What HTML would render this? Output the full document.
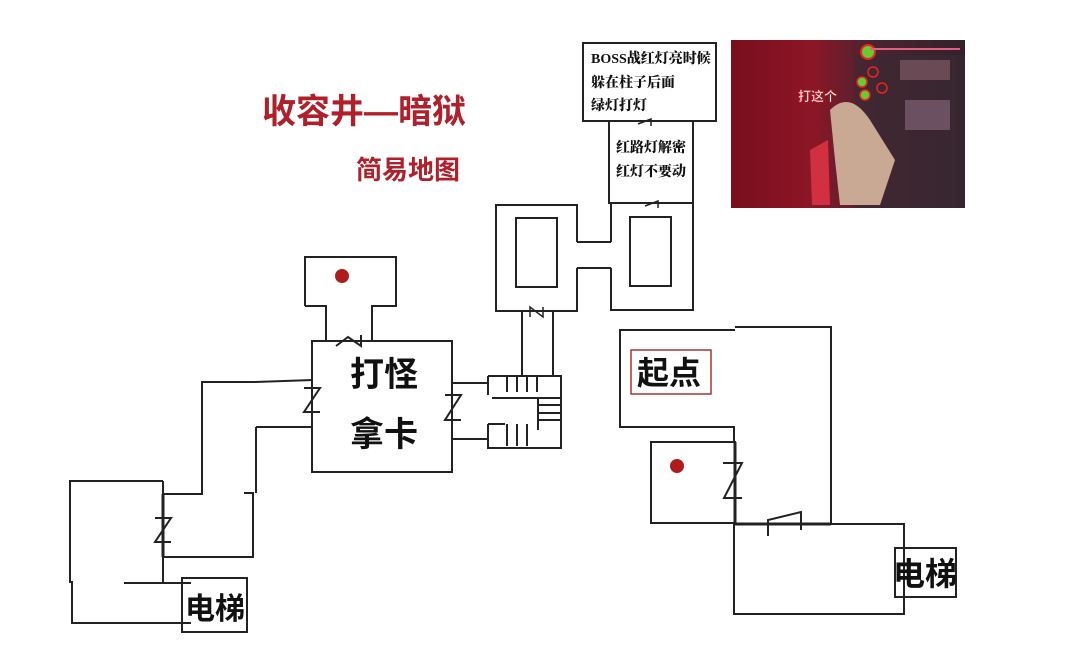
<!DOCTYPE html>
<html><head><meta charset="utf-8"><style>
html,body{margin:0;padding:0;background:#fff;width:1080px;height:670px;overflow:hidden}
svg{display:block}
text{font-family:"Liberation Sans","Noto Sans CJK SC",sans-serif;font-weight:bold}
</style></head><body>
<svg width="1080" height="670" viewBox="0 0 1080 670" xmlns="http://www.w3.org/2000/svg">
<g fill="none" stroke="#222" stroke-width="2">
<path d="M163 481 H70 V582 H72 V623 H191"/>
<path d="M124 583 H191"/>
<rect x="182" y="578" width="65" height="54"/>
<path d="M163 481 V583"/>
<path d="M163 494 H202 V382 H255 L313 380"/>
<path d="M163 557 H253 V493 H244"/>
<path d="M256 427 V493"/>
<path d="M256 427 H313"/>
<path d="M163 494 V557" stroke-width="3"/>
<path d="M155 518 H171 L155 542 H171"/>
<rect x="312" y="341" width="140" height="131"/>
<path d="M304 388 H320 L304 412 H320"/>
<path d="M305 306 V257 H396 V306 H372 V340 M305 306 H326 V340"/>
<path d="M336 346 L348 337 L361 346 V335"/>
<path d="M452 383 H488 M452 439 H488"/>
<path d="M445 395 H461 L445 420 H461"/>
<path d="M488 376 H561 V448 H488 V424 M488 376 V395"/>
<path d="M492 398 H538 V430 M488 424 H505"/>
<path d="M507 376 V392 M517 376 V392 M527 376 V392 M537 376 V392"/>
<path d="M538 398 H561 M538 405 H561 M538 413 H561 M538 420 H561"/>
<path d="M507 424 V446 M517 424 V446 M527 424 V446"/>
<path d="M522 311 V376 M553 311 V376"/>
<path d="M577 242 V205 H496 V311 H577 V268"/>
<rect x="516" y="218" width="41" height="69"/>
<path d="M577 242 H611 M577 268 H611"/>
<path d="M611 242 V203 H693 V310 H611 V268"/>
<rect x="630" y="217" width="41" height="69"/>
<path d="M530 317 V307 L543 317 V307" stroke-width="1.5"/>
<rect x="609" y="121" width="84" height="82"/>
<rect x="583" y="43" width="133" height="78" fill="#fff"/>
<path d="M638 124 L651 119 V126 M645 206 L658 201 V208" stroke-width="1.5"/>
<path d="M735 330 H620 V427 H734 V442"/>
<path d="M735 327 H831 V524"/>
<rect x="651" y="442" width="84" height="81"/>
<path d="M735 442 V524 M734 524 H831" stroke-width="3"/>
<path d="M723 463 H742 L724 498 H742"/>
<path d="M768 536 V520 L801 512 V530"/>
<path d="M734 524 V614 H904 V524 H831"/>
<rect x="895" y="548" width="61" height="49"/>
<rect x="631" y="350" width="80" height="44" stroke="#a33" stroke-width="1.5"/>
</g>
<circle cx="342" cy="276" r="7" fill="#b01c1c"/>
<circle cx="677" cy="466" r="7" fill="#b01c1c"/>
<defs><linearGradient id="g" x1="0" x2="1"><stop offset="0" stop-color="#7a0e1c"/><stop offset="0.35" stop-color="#8c1626"/><stop offset="0.6" stop-color="#4a2430"/><stop offset="1" stop-color="#32222a"/></linearGradient></defs>
<rect x="731" y="40" width="234" height="168" fill="url(#g)"/>
<rect x="855" y="55" width="110" height="153" fill="#3a2a34" opacity="0.6"/>
<rect x="900" y="60" width="50" height="20" fill="#6a4a55"/>
<rect x="905" y="100" width="45" height="30" fill="#6a5060"/>
<path d="M830 110 Q850 90 870 120 L895 160 L880 205 L840 205 L835 160 Z" fill="#c9a894"/>
<path d="M810 150 L828 140 L830 205 L812 205 Z" fill="#d03040"/>
<circle cx="868" cy="52" r="7" fill="#6c3" stroke="#e22" stroke-width="2"/>
<circle cx="862" cy="82" r="5" fill="#6c3" stroke="#e22" stroke-width="1.5"/>
<circle cx="865" cy="95" r="5" fill="#6c3" stroke="#e22" stroke-width="1.5"/>
<circle cx="873" cy="72" r="5" fill="none" stroke="#e22" stroke-width="1.5"/>
<circle cx="882" cy="88" r="5" fill="none" stroke="#e22" stroke-width="1.5"/>
<path d="M870 49 H960" stroke="#e06080" stroke-width="2"/>
<text x="798" y="101" font-size="13" fill="#fff" stroke="#c22" stroke-width="0.6">打这个</text>
<text x="262" y="123" font-size="34" fill="#b0202a">收容井—暗狱</text>
<text x="356" y="179" font-size="26" fill="#b0202a">简易地图</text>
<text x="350" y="386" font-size="34" fill="#111">打怪</text>
<text x="350" y="446" font-size="34" fill="#111">拿卡</text>
<text x="637" y="384" font-size="32" fill="#111">起点</text>
<text x="893" y="585" font-size="32" fill="#111">电梯</text>
<text x="185" y="619" font-size="30" fill="#111">电梯</text>
<g font-size="14" fill="#111">
<text x="591" y="63" style="font-family:'Liberation Serif','Noto Serif CJK SC',serif;font-weight:900">BOSS战红灯亮时候</text>
<text x="591" y="87" style="font-family:'Liberation Serif','Noto Serif CJK SC',serif;font-weight:900">躲在柱子后面</text>
<text x="591" y="110" style="font-family:'Liberation Serif','Noto Serif CJK SC',serif;font-weight:900">绿灯打灯</text>
<text x="616" y="152" style="font-family:'Liberation Serif','Noto Serif CJK SC',serif;font-weight:900">红路灯解密</text>
<text x="616" y="176" style="font-family:'Liberation Serif','Noto Serif CJK SC',serif;font-weight:900">红灯不要动</text>
</g>
</svg>
</body></html>
